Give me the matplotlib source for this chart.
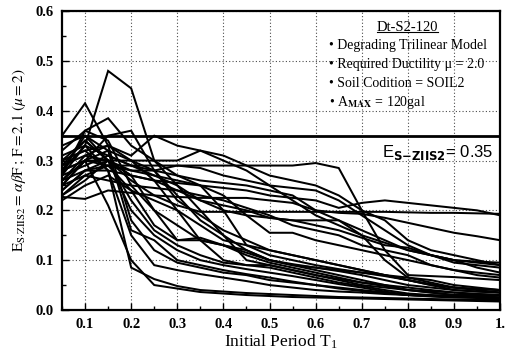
import matplotlib
matplotlib.use("Agg")
import matplotlib.pyplot as plt
import numpy as np
from matplotlib.ticker import MultipleLocator, FixedLocator
from matplotlib.lines import Line2D

plt.rcParams['mathtext.fontset'] = 'stix'

periods = [0.05, 0.10, 0.15, 0.20, 0.25, 0.30, 0.35, 0.40, 0.45, 0.50,
           0.55, 0.60, 0.65, 0.70, 0.75, 0.80, 0.85, 0.90, 0.95, 1.00]

fast_1 = [0.25, 0.30, 0.21, 0.10, 0.050, 0.043, 0.036, 0.033, 0.030, 0.028, 0.026, 0.025, 0.024, 0.023, 0.022, 0.021, 0.020, 0.019, 0.018, 0.017]
fast_2 = [0.27, 0.33, 0.28, 0.085, 0.062, 0.048, 0.040, 0.037, 0.034, 0.032, 0.030, 0.028, 0.026, 0.025, 0.024, 0.023, 0.022, 0.021, 0.020, 0.020]
fast_3 = [0.28, 0.35, 0.32, 0.16, 0.14, 0.10, 0.090, 0.080, 0.072, 0.065, 0.057, 0.050, 0.045, 0.040, 0.035, 0.030, 0.029, 0.028, 0.027, 0.025]
fast_4 = [0.24, 0.28, 0.30, 0.20, 0.15, 0.12, 0.100, 0.090, 0.082, 0.075, 0.068, 0.060, 0.052, 0.045, 0.037, 0.030, 0.027, 0.025, 0.024, 0.022]
fast_5 = [0.30, 0.32, 0.28, 0.15, 0.09, 0.08, 0.072, 0.065, 0.058, 0.050, 0.045, 0.040, 0.037, 0.035, 0.032, 0.030, 0.028, 0.026, 0.025, 0.024]
fast_6 = [0.26, 0.31, 0.33, 0.18, 0.12, 0.095, 0.085, 0.075, 0.070, 0.060, 0.055, 0.050, 0.043, 0.038, 0.034, 0.030, 0.028, 0.027, 0.026, 0.025]
fast_7 = [0.29, 0.34, 0.30, 0.22, 0.16, 0.13, 0.11, 0.095, 0.090, 0.085, 0.075, 0.065, 0.055, 0.048, 0.040, 0.033, 0.030, 0.028, 0.026, 0.025]

mid_1 = [0.30, 0.34, 0.30, 0.27, 0.20, 0.14, 0.145, 0.13, 0.115, 0.10, 0.09, 0.08, 0.07, 0.06, 0.05, 0.04, 0.035, 0.03, 0.03, 0.03]
mid_2 = [0.26, 0.30, 0.32, 0.30, 0.26, 0.20, 0.14, 0.10, 0.09, 0.09, 0.08, 0.07, 0.062, 0.055, 0.048, 0.04, 0.035, 0.03, 0.028, 0.025]
mid_3 = [0.28, 0.33, 0.48, 0.445, 0.30, 0.25, 0.20, 0.15, 0.10, 0.09, 0.08, 0.07, 0.06, 0.05, 0.045, 0.04, 0.038, 0.035, 0.032, 0.03]
mid_4 = [0.35, 0.415, 0.33, 0.30, 0.28, 0.23, 0.18, 0.15, 0.12, 0.10, 0.092, 0.085, 0.078, 0.07, 0.06, 0.05, 0.045, 0.04, 0.037, 0.035]
mid_5 = [0.27, 0.36, 0.385, 0.33, 0.30, 0.27, 0.25, 0.20, 0.13, 0.11, 0.10, 0.09, 0.082, 0.075, 0.068, 0.06, 0.052, 0.045, 0.042, 0.04]
mid_6 = [0.25, 0.30, 0.35, 0.36, 0.28, 0.22, 0.19, 0.16, 0.14, 0.12, 0.11, 0.10, 0.09, 0.08, 0.07, 0.06, 0.05, 0.04, 0.037, 0.035]
mid_7 = [0.32, 0.36, 0.34, 0.25, 0.20, 0.17, 0.14, 0.13, 0.12, 0.10, 0.09, 0.085, 0.08, 0.075, 0.07, 0.065, 0.06, 0.05, 0.045, 0.04]
mid_8 = [0.23, 0.27, 0.29, 0.24, 0.17, 0.14, 0.14, 0.13, 0.11, 0.095, 0.085, 0.075, 0.065, 0.055, 0.05, 0.045, 0.04, 0.035, 0.032, 0.03]

slow_1 = [0.23, 0.26, 0.30, 0.26, 0.23, 0.21, 0.197, 0.197, 0.197, 0.197, 0.197, 0.197, 0.197, 0.197, 0.197, 0.196, 0.195, 0.195, 0.194, 0.193]
slow_2 = [0.24, 0.28, 0.29, 0.29, 0.29, 0.29, 0.29, 0.29, 0.29, 0.29, 0.29, 0.295, 0.285, 0.20, 0.12, 0.07, 0.068, 0.066, 0.063, 0.06]
slow_3 = [0.227, 0.223, 0.24, 0.235, 0.23, 0.227, 0.225, 0.225, 0.225, 0.22, 0.215, 0.20, 0.18, 0.16, 0.14, 0.12, 0.11, 0.10, 0.095, 0.09]
slow_4 = [0.30, 0.32, 0.33, 0.31, 0.35, 0.33, 0.32, 0.30, 0.28, 0.25, 0.22, 0.19, 0.17, 0.15, 0.135, 0.12, 0.11, 0.10, 0.097, 0.095]
slow_5 = [0.28, 0.30, 0.30, 0.30, 0.30, 0.30, 0.32, 0.31, 0.29, 0.27, 0.26, 0.25, 0.23, 0.20, 0.18, 0.14, 0.12, 0.11, 0.10, 0.09]
slow_6 = [0.26, 0.28, 0.28, 0.27, 0.26, 0.255, 0.25, 0.245, 0.24, 0.23, 0.225, 0.22, 0.205, 0.215, 0.22, 0.215, 0.21, 0.205, 0.20, 0.19]
slow_7 = [0.25, 0.27, 0.26, 0.25, 0.245, 0.24, 0.23, 0.22, 0.205, 0.19, 0.17, 0.16, 0.15, 0.13, 0.12, 0.11, 0.09, 0.08, 0.075, 0.07]
slow_8 = [0.29, 0.31, 0.30, 0.28, 0.27, 0.26, 0.25, 0.23, 0.19, 0.155, 0.155, 0.14, 0.13, 0.12, 0.11, 0.10, 0.09, 0.08, 0.07, 0.065]
slow_9 = [0.31, 0.33, 0.31, 0.29, 0.27, 0.25, 0.22, 0.20, 0.19, 0.185, 0.18, 0.18, 0.18, 0.15, 0.10, 0.065, 0.055, 0.045, 0.04, 0.035]
slow_10 = [0.22, 0.25, 0.27, 0.24, 0.22, 0.20, 0.17, 0.14, 0.13, 0.12, 0.11, 0.10, 0.09, 0.08, 0.07, 0.06, 0.05, 0.045, 0.042, 0.04]
slow_11 = [0.27, 0.29, 0.31, 0.29, 0.28, 0.27, 0.26, 0.255, 0.25, 0.24, 0.23, 0.20, 0.195, 0.193, 0.185, 0.175, 0.165, 0.155, 0.148, 0.14]
slow_12 = [0.28, 0.30, 0.29, 0.28, 0.28, 0.29, 0.285, 0.27, 0.26, 0.25, 0.245, 0.24, 0.22, 0.19, 0.16, 0.13, 0.11, 0.095, 0.09, 0.085]
slow_13 = [0.33, 0.35, 0.30, 0.27, 0.26, 0.24, 0.22, 0.21, 0.20, 0.185, 0.18, 0.17, 0.16, 0.145, 0.13, 0.125, 0.11, 0.10, 0.085, 0.075]

spectra = [fast_1, fast_2, fast_3, fast_4, fast_5, fast_6, fast_7,
           mid_1, mid_2, mid_3, mid_4, mid_5, mid_6, mid_7, mid_8,
           slow_1, slow_2, slow_3, slow_4, slow_5, slow_6, slow_7, slow_8,
           slow_9, slow_10, slow_11, slow_12, slow_13]

design_level = 0.35

x_ticks = [0.1, 0.2, 0.3, 0.4, 0.5, 0.6, 0.7, 0.8, 0.9, 1.0]
x_tick_labels = ['0.1', '0.2', '0.3', '0.4', '0.5', '0.6', '0.7', '0.8', '0.9', '1.']
y_ticks = [0.0, 0.1, 0.2, 0.3, 0.4, 0.5, 0.6]
y_tick_labels = ['0.0', '0.1', '0.2', '0.3', '0.4', '0.5', '0.6']

fig = plt.figure(figsize=(5.06, 3.6), dpi=100)
ax = fig.add_axes([0.1225, 0.139, 0.866, 0.83])

for s in spectra:
    ax.plot(periods, s, color='black', lw=1.45, solid_joinstyle='miter')

ax.axhline(design_level, color='black', lw=2.0)

ax.set_xlim(0.05, 1.0)
ax.set_ylim(0.0, 0.6)
ax.xaxis.set_major_locator(FixedLocator(x_ticks))
ax.set_xticklabels(x_tick_labels)
ax.xaxis.set_minor_locator(MultipleLocator(0.05))
ax.yaxis.set_major_locator(FixedLocator(y_ticks))
ax.set_yticklabels(y_tick_labels)
ax.yaxis.set_minor_locator(MultipleLocator(0.05))
ax.tick_params(which='both', direction='in', top=False, right=False, color='black')
ax.tick_params(which='major', length=5, width=1.0, pad=6)
ax.tick_params(which='minor', length=3, width=1.0)
for lab in ax.get_xticklabels() + ax.get_yticklabels():
    lab.set_fontfamily('Liberation Serif')
    lab.set_fontweight('bold')
    lab.set_fontsize(10.5)
for sp in ax.spines.values():
    sp.set_linewidth(1.6)
ax.grid(True, which='major', linestyle=(0, (1, 2)), color='black', lw=0.8, alpha=0.7)

ax.set_xlabel(r'Initial Period T$_{\mathregular{1}}$', fontfamily='Liberation Serif', fontsize=12.5, labelpad=1)
ax.set_ylabel(r'$\mathrm{E}_{\mathrm{S{\cdot}ZIIS2}}{=}\,\alpha\beta\mathrm{F}\,;\,\mathrm{F{=}2.1}\ (\mu{=}2)$',
              fontsize=11, labelpad=5)

# annotation text
tx = 0.61
title_txt = ax.text(0.788, 0.946, 'Dt-S2-120', transform=ax.transAxes,
                    ha='center', va='center', fontfamily='Liberation Serif', fontsize=10.5)
lines = ['\u2022 Degrading Trilinear Model',
         '\u2022 Required Ductility \u03bc = 2.0',
         '\u2022 Soil Codition = SOIL2']
for i, t in enumerate(lines):
    ax.text(tx, 0.886 - i * 0.064, t, transform=ax.transAxes, ha='left', va='center',
            fontfamily='Liberation Serif', fontsize=10)
ax.text(tx, 0.886 - 3 * 0.064, '\u2022 A$_{\\mathbf{MAX}}$ = 120gal', transform=ax.transAxes,
        ha='left', va='center', fontfamily='Liberation Serif', fontsize=10)

ax.text(0.985, 0.528, r'E$_{\mathbf{S{-}ZIIS2}}$= 0.35', transform=ax.transAxes,
        ha='right', va='center', fontfamily='Liberation Sans', fontsize=12,
        math_fontfamily='dejavusans')

# underline for the title
fig.canvas.draw()
bb = title_txt.get_window_extent().transformed(fig.transFigure.inverted())
fig.add_artist(Line2D([bb.x0, bb.x1], [bb.y0 + 0.006, bb.y0 + 0.006], transform=fig.transFigure,
                      color='black', lw=0.8))

fig.savefig('out.png', dpi=100)
